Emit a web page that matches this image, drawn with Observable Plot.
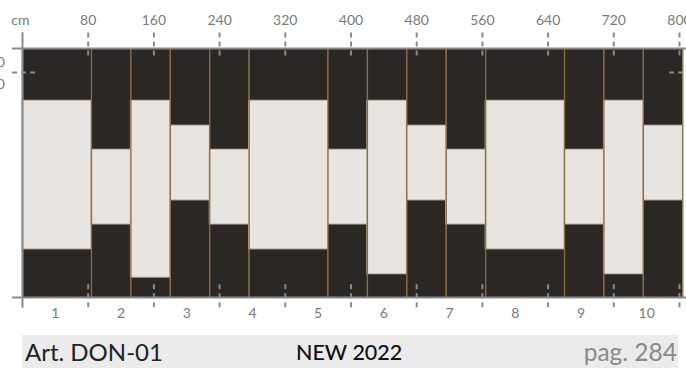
<!DOCTYPE html>
<html>
<head>
<meta charset="utf-8">
<script src="https://cdn.jsdelivr.net/npm/d3@7"></script>
<script src="https://cdn.jsdelivr.net/npm/@observablehq/plot@0.6"></script>
<style>
  html, body { margin: 0; padding: 0; background: #fff; }
  #wrap { position: relative; width: 686px; height: 376px; font-family: Lato, "Open Sans", sans-serif; }
  #bar { position: absolute; left: 22px; top: 335px; width: 656px; height: 33px; background: #ebebeb; }
  #bar span { position: absolute; top: 0; line-height: 34px; white-space: nowrap; }
  #art { left: 3px; font-size: 24px; color: #222; }
  #new { left: 274px; font-size: 21.5px; color: #111; font-weight: 500; }
  #pag { right: 1px; font-size: 24.5px; color: #8a8a8a; }
</style>
</head>
<body>
<div id="wrap">
  <div id="chart"></div>
  <div id="bar"><span id="art">Art. DON-01</span><span id="new">NEW 2022</span><span id="pag">pag. 284</span></div>
</div>
<script>
// Panel edges (cm) along the wall
const panelLeft  = [0, 84, 132, 180, 228, 276, 372, 420, 468, 516, 564, 660, 708, 756];
const panelRight = [84, 132, 180, 228, 276, 372, 420, 468, 516, 564, 660, 708, 756, 804];
// Light block lower and upper edge (cm from floor)
const lightLow  = [58, 88, 24, 117, 88, 58, 88, 28, 117, 88, 58, 88, 28, 117];
const lightHigh = [237, 178, 237, 207, 178, 237, 178, 237, 207, 178, 237, 178, 237, 207];
// Wall height (cm)
const wallHeight = 300;
// Top axis ticks (cm)
const cmTicks = [80, 160, 240, 320, 400, 480, 560, 640, 720, 800];
// Roll numbers and their centres (cm)
const rollLabels = ["1", "2", "3", "4", "5", "6", "7", "8", "9", "10"];
const rollCenters = [40, 120, 200, 280, 360, 440, 520, 600, 680, 760];
// Height marker (cm) and its clipped labels
const heightMark = 271;
const heightLabels = ["280", "260"];
const heightLabelPos = [283, 257];

const panels = panelLeft.map((l, i) => ({l, r: panelRight[i], lo: lightLow[i], hi: lightHigh[i]}));
const rolls = rollLabels.map((t, i) => ({t, x: rollCenters[i]}));
const hLabels = heightLabels.map((t, i) => ({t, y: heightLabelPos[i]}));

const gray = "#8a8a8a";
const dark = "#2b2724";
const light = "#e8e4e1";

const chart = Plot.plot({
  width: 686,
  height: 330,
  marginLeft: 22,
  marginRight: 7,
  marginTop: 48,
  marginBottom: 33,
  x: {domain: [0, 800], axis: null},
  y: {domain: [0, wallHeight], axis: null},
  style: {background: "transparent", fontFamily: "Lato, 'Open Sans', sans-serif"},
  marks: [
    Plot.rect(panels, {x1: "l", x2: "r", y1: 0, y2: wallHeight, fill: dark}),
    Plot.rect(panels, {x1: "l", x2: "r", y1: "lo", y2: "hi", fill: light, stroke: "#cdbda5", strokeWidth: 1}),
    Plot.ruleX(panels, {x: "l", y1: 0, y2: wallHeight, stroke: "#8d6d40", strokeWidth: 1.3}),
    Plot.ruleX([804], {y1: 0, y2: wallHeight, stroke: "#8d6d40", strokeWidth: 1.3}),
    // frame lines
    Plot.ruleY([wallHeight, 0], {x1: -12, x2: 815, stroke: gray, strokeWidth: 2}),
    Plot.ruleX([0], {y1: -13, y2: 319, stroke: gray, strokeWidth: 2}),
    // dashed ticks top and bottom
    Plot.ruleX(cmTicks, {y1: 291, y2: 319, stroke: gray, strokeWidth: 2, strokeDasharray: "5,4"}),
    Plot.ruleX(cmTicks, {y1: 15.5, y2: -13.5, stroke: gray, strokeWidth: 2, strokeDasharray: "5,4"}),
    // height marker dashes
    Plot.ruleY([heightMark], {x1: -12, x2: 18, stroke: gray, strokeWidth: 2, strokeDasharray: "5,4"}),
    Plot.ruleY([heightMark], {x1: 788, x2: 815, stroke: gray, strokeWidth: 2, strokeDasharray: "5,4"}),
    // labels
    Plot.text(cmTicks, {x: d => d, y: 334, text: d => String(d), fontSize: 14, fill: "#7a7a7a"}),
    Plot.text(["cm"], {x: -2.5, y: 334, text: d => d, fontSize: 14, fill: "#7a7a7a"}),
    Plot.text(rolls, {x: "x", y: -19.5, text: "t", fontSize: 14, fill: "#7a7a7a"}),
    Plot.text(hLabels, {x: -21.5, y: "y", text: "t", fontSize: 14, fill: "#7a7a7a", textAnchor: "end"})
  ]
});
document.getElementById("chart").appendChild(chart);
</script>
</body>
</html>
